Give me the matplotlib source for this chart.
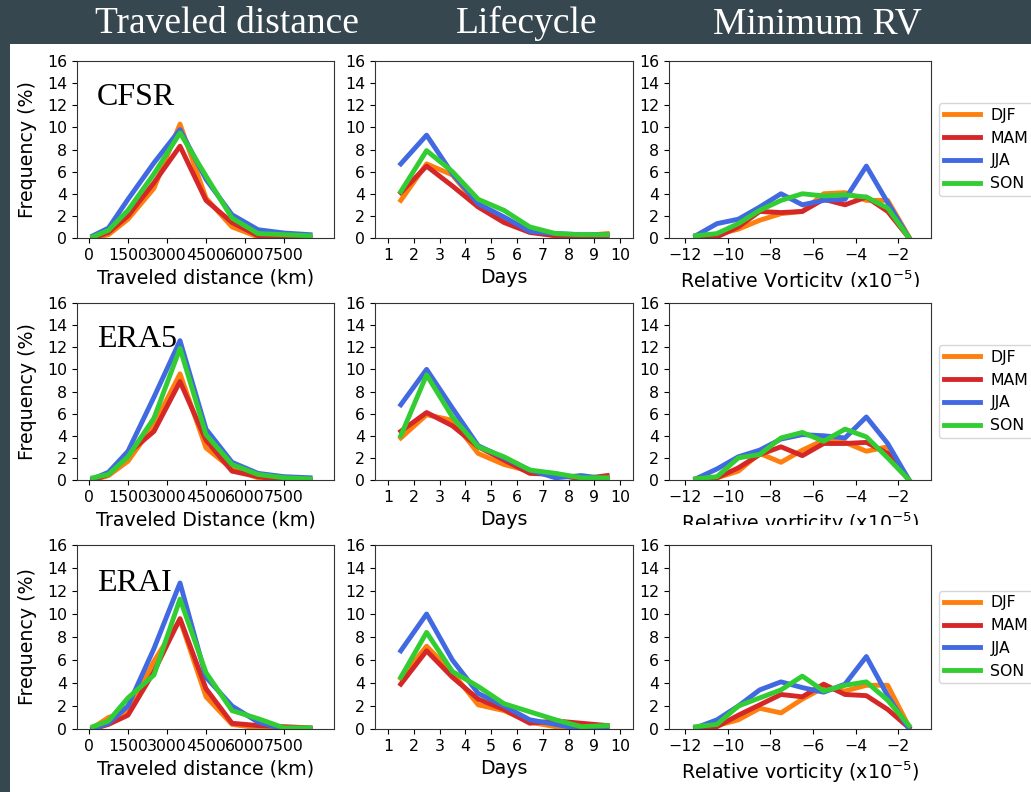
import matplotlib.pyplot as plt
from matplotlib.patches import Rectangle

# x positions (bin centres)
dist_x = [150, 750, 1500, 2500, 3500, 4500, 5500, 6500, 7500, 8500]
days_x = [1.5, 2.5, 3.5, 4.5, 5.5, 6.5, 7.5, 8.5, 9.5]
rv_x = [-11.5, -10.5, -9.5, -8.5, -7.5, -6.5, -5.5, -4.5, -3.5, -2.5, -1.5]

seasons = ['DJF', 'MAM', 'JJA', 'SON']
colors = ['#ff7f0e', '#d62728', '#4169e1', '#32cd32']

datasets = ['CFSR', 'ERA5', 'ERAI']
col_titles = ['Traveled distance', 'Lifecycle', 'Minimum RV']

# frequencies (%) in season order DJF, MAM, JJA, SON
cfsr_dist = [[0.0, 0.3, 1.7, 4.5, 10.3, 3.6, 1.0, 0.1, 0.0, 0.0],
             [0.0, 0.5, 2.0, 5.0, 8.3, 3.4, 1.4, 0.2, 0.1, 0.0],
             [0.2, 0.9, 3.5, 6.8, 9.8, 5.3, 2.1, 0.75, 0.45, 0.3],
             [0.1, 0.7, 2.5, 5.8, 9.5, 5.6, 1.8, 0.4, 0.3, 0.2]]
cfsr_days = [[3.4, 6.7, 5.7, 2.9, 1.6, 0.6, 0.2, 0.2, 0.4],
             [4.1, 6.5, 4.7, 2.8, 1.4, 0.5, 0.2, 0.2, 0.2],
             [6.7, 9.3, 5.8, 3.1, 1.9, 0.6, 0.4, 0.3, 0.3],
             [4.2, 7.9, 6.0, 3.5, 2.5, 1.0, 0.4, 0.3, 0.3]]
cfsr_rv = [[0.2, 0.3, 0.8, 1.6, 2.2, 2.4, 4.0, 4.1, 3.4, 3.4, 0.1],
           [0.0, 0.1, 1.0, 2.4, 2.3, 2.4, 3.5, 3.0, 3.7, 2.4, 0.0],
           [0.2, 1.3, 1.7, 2.8, 4.0, 3.0, 3.4, 3.5, 6.5, 3.2, 0.0],
           [0.2, 0.4, 1.3, 2.5, 3.4, 4.0, 3.8, 3.9, 3.7, 2.7, 0.0]]

era5_dist = [[0.0, 0.4, 1.7, 5.0, 9.6, 2.9, 1.0, 0.2, 0.0, 0.0],
             [0.0, 0.5, 2.4, 4.4, 8.9, 3.6, 0.8, 0.3, 0.0, 0.0],
             [0.1, 0.7, 2.6, 7.5, 12.6, 4.6, 1.6, 0.6, 0.3, 0.2],
             [0.2, 0.5, 2.1, 5.6, 11.9, 4.1, 1.4, 0.5, 0.2, 0.1]]
era5_days = [[3.8, 5.9, 5.4, 2.4, 1.4, 0.8, 0.5, 0.1, 0.1],
             [4.4, 6.1, 4.9, 3.0, 1.8, 0.6, 0.5, 0.1, 0.4],
             [6.8, 10.0, 6.5, 3.1, 2.0, 0.9, 0.2, 0.4, 0.1],
             [4.0, 9.5, 5.7, 3.0, 2.1, 0.9, 0.6, 0.2, 0.2]]
era5_rv = [[0.1, 0.2, 0.8, 2.4, 1.6, 2.7, 3.6, 3.4, 2.6, 3.0, 0.0],
           [0.0, 0.2, 1.1, 2.3, 3.0, 2.2, 3.3, 3.3, 3.4, 2.4, 0.0],
           [0.1, 1.0, 2.1, 2.7, 3.7, 4.1, 4.0, 3.8, 5.7, 3.3, 0.0],
           [0.1, 0.3, 2.0, 2.3, 3.8, 4.3, 3.5, 4.6, 3.9, 2.0, 0.0]]

erai_dist = [[0.1, 1.0, 1.6, 5.9, 9.5, 2.8, 0.4, 0.1, 0.1, 0.0],
             [0.0, 0.4, 1.2, 5.0, 9.6, 3.5, 0.5, 0.3, 0.2, 0.1],
             [0.0, 0.5, 2.0, 7.0, 12.7, 4.5, 2.0, 0.6, 0.0, 0.0],
             [0.2, 0.7, 2.7, 4.7, 11.3, 4.9, 1.6, 0.9, 0.1, 0.1]]
erai_days = [[4.4, 7.2, 4.9, 2.1, 1.6, 0.6, 0.2, 0.1, 0.1],
             [3.9, 6.8, 4.5, 2.6, 1.7, 0.5, 0.7, 0.5, 0.3],
             [6.8, 10.0, 6.0, 3.1, 2.0, 0.8, 0.4, 0.0, 0.0],
             [4.5, 8.4, 5.0, 3.7, 2.2, 1.5, 0.8, 0.2, 0.3]]
erai_rv = [[0.1, 0.3, 0.8, 1.8, 1.4, 2.6, 3.6, 3.3, 3.8, 3.8, 0.2],
           [0.0, 0.2, 1.2, 2.1, 3.0, 2.8, 3.9, 3.0, 2.9, 1.7, 0.1],
           [0.1, 0.8, 2.0, 3.4, 4.1, 3.6, 3.2, 3.9, 6.3, 2.9, 0.0],
           [0.2, 0.4, 2.0, 2.7, 3.4, 4.6, 3.3, 3.8, 4.1, 2.5, 0.3]]

rows = [(cfsr_dist, cfsr_days, cfsr_rv),
        (era5_dist, era5_days, era5_rv),
        (erai_dist, erai_days, erai_rv)]

xlabels = [['Traveled distance (km)', 'Days', r'Relative Vorticity (x10$^{-5}$)'],
           ['Traveled Distance (km)', 'Days', r'Relative vorticity (x10$^{-5}$)'],
           ['Traveled distance (km)', 'Days', r'Relative vorticity (x10$^{-5}$)']]

W, H = 1031, 792
fig = plt.figure(figsize=(W / 100, H / 100), dpi=100, facecolor='#37474f')
fig.add_artist(Rectangle((10 / W, 0), 1 - 10 / W, 1 - 44 / H, transform=fig.transFigure,
                         facecolor='white', edgecolor='none', zorder=-5))

# header titles
for x, t in zip([227, 527, 817], col_titles):
    fig.text(x / W, 1 - 33 / H, t, ha='center', va='baseline', color='white',
             family='Liberation Serif', fontsize=27)

col_left = [77, 375, 669]
col_width = [257, 258, 262]
row_top = [61, 303, 545]
row_bot = [238, 480, 729]
xs = [dist_x, days_x, rv_x]

for r in range(3):
    for c in range(3):
        l, w = col_left[c], col_width[c]
        t, b = row_top[r], row_bot[r]
        ax = fig.add_axes([l / W, 1 - b / H, w / W, (b - t) / H])
        for s, col, y in zip(seasons, colors, rows[r][c]):
            ax.plot(xs[c], y, color=col, lw=3.5, label=s)
        ax.set_ylim(0, 16)
        ax.set_yticks(range(0, 17, 2))
        if c == 0:
            ax.set_xlim(-460, 9420)
            ax.set_xticks([0, 1500, 3000, 4500, 6000, 7500])
            ax.set_ylabel('Frequency (%)', fontsize=13.7, labelpad=7)
            ax.text(0.078, 0.75, datasets[r], transform=ax.transAxes,
                    family='Liberation Serif', fontsize=23, va='baseline')
        elif c == 1:
            ax.set_xlim(0.5, 10.5)
            ax.set_xticks(range(1, 11))
        else:
            ax.set_xlim(-12.75, -0.47)
            ax.set_xticks(range(-12, -1, 2))
            ax.legend(loc='center left', bbox_to_anchor=(1.0, 0.5), fontsize=11.3,
                      handlelength=2.35, handletextpad=0.64, labelspacing=0.5,
                      borderpad=0.3)
        ax.set_xlabel(xlabels[r][c], fontsize=13.7)
        ax.tick_params(labelsize=11.3)
        for sp in ax.spines.values():
            sp.set_color('#333333')

# the Minimum RV column labels of the upper rows are cut off in the original
for y0 in [287, 525]:
    fig.add_artist(Rectangle((672 / W, 1 - (y0 + 8) / H), 262 / W, 8 / H,
                             transform=fig.transFigure, facecolor='white',
                             edgecolor='none', zorder=10))

fig.savefig('out.png', dpi=100, facecolor=fig.get_facecolor())
